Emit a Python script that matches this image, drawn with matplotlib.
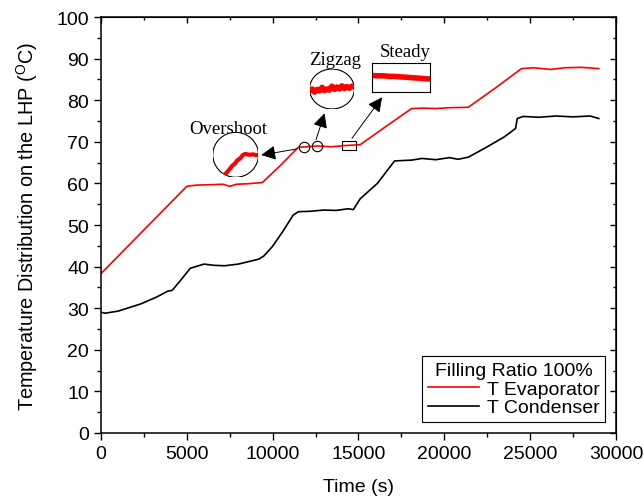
import numpy as np
import matplotlib.pyplot as plt
from matplotlib.patches import Ellipse, Rectangle
from matplotlib.ticker import MultipleLocator

plt.rcParams['font.family'] = 'Liberation Sans'
plt.rcParams['mathtext.fontset'] = 'custom'
plt.rcParams['mathtext.rm'] = 'Liberation Sans'

# Evaporator temperature
evap_t = [0, 1000, 2000, 3000, 4000, 5000, 5600, 6500, 7100, 7500, 7900, 8500, 9400,
          10500, 11500, 12000, 12600, 13400, 14200, 15100, 16500, 18100, 18800, 19500,
          20300, 21400, 23000, 24500, 25200, 26200, 27000, 28000, 29000]
evap_T = [38.3, 42.5, 46.7, 50.9, 55.1, 59.3, 59.6, 59.7, 59.8, 59.3, 59.8, 59.9, 60.2,
          64.5, 68.7, 68.8, 69.0, 68.8, 69.1, 69.3, 73.4, 78.0, 78.1, 78.0,
          78.2, 78.3, 83.0, 87.6, 87.8, 87.4, 87.8, 87.9, 87.6]

# Condenser temperature
cond_t = [0, 250, 1000, 2300, 3200, 3900, 4150, 4600, 5200, 6000, 6600, 7200, 8000, 8700,
          9200, 9500, 10000, 10600, 11200, 11500, 12200, 13000, 13700, 14400, 14700, 15100,
          16100, 17100, 18100, 18700, 19500, 20300, 20800, 21400, 22500, 23500, 24150, 24250,
          24600, 25500, 26500, 27500, 28500, 29000]
cond_T = [29.0, 28.8, 29.3, 31.0, 32.6, 34.1, 34.3, 36.5, 39.6, 40.6, 40.3, 40.2, 40.6, 41.3,
          41.8, 42.6, 44.9, 48.5, 52.4, 53.2, 53.3, 53.6, 53.5, 53.9, 53.7, 56.3,
          60.0, 65.4, 65.6, 66.0, 65.7, 66.2, 65.8, 66.3, 68.8, 71.2, 73.2, 75.6,
          76.1, 75.9, 76.2, 76.0, 76.2, 75.6]

# magnified traces inside the three insets (inset-local 0..1 coordinates)
over_x = [0.22, 0.3, 0.36, 0.42, 0.48, 0.54, 0.6, 0.66, 0.72, 0.8, 0.88, 0.96, 1.0]
over_y = [0.0, 0.1, 0.17, 0.25, 0.3, 0.38, 0.42, 0.5, 0.52, 0.5, 0.51, 0.49, 0.5]
zig_x = [0, 0.06, 0.11, 0.17, 0.22, 0.28, 0.33, 0.39, 0.44, 0.5, 0.56, 0.61, 0.67,
         0.72, 0.78, 0.83, 0.89, 0.94, 1.0]
zig_y = [0.44, 0.5, 0.42, 0.49, 0.45, 0.54, 0.46, 0.5, 0.47, 0.57, 0.49, 0.55, 0.5,
         0.58, 0.51, 0.56, 0.52, 0.57, 0.55]
steady_x = [0, 0.1, 0.2, 0.3, 0.4, 0.5, 0.6, 0.7, 0.8, 0.9, 1.0]
steady_y = [0.57, 0.56, 0.56, 0.54, 0.54, 0.52, 0.51, 0.49, 0.48, 0.46, 0.45]

# points marked on the evaporator curve
mark_t = [11840, 12580]

fig = plt.figure(figsize=(6.44, 5.02), dpi=100)
ax = fig.add_axes([0.1568, 0.1355, 0.7997, 0.8286])

ax.plot(evap_t, evap_T, color='red', lw=1.2, label='T Evaporator')
ax.plot(cond_t, cond_T, color='black', lw=1.2, label='T Condenser')

ax.set_xlim(0, 30000)
ax.set_ylim(0, 100)
ax.xaxis.set_major_locator(MultipleLocator(5000))
ax.xaxis.set_minor_locator(MultipleLocator(2500))
ax.yaxis.set_major_locator(MultipleLocator(10))
ax.yaxis.set_minor_locator(MultipleLocator(5))
ax.tick_params(which='both', direction='out', labelsize=14, width=1)
ax.tick_params(which='major', length=5)
ax.tick_params(which='minor', length=3)
for s in ax.spines.values():
    s.set_linewidth(1.1)
sec_y = ax.secondary_yaxis('right')
sec_y.yaxis.set_major_locator(MultipleLocator(10))
sec_y.yaxis.set_minor_locator(MultipleLocator(5))
sec_y.tick_params(which='both', direction='in', labelright=False, width=1)
sec_y.tick_params(which='major', length=4)
sec_y.tick_params(which='minor', length=2)
sec_x = ax.secondary_xaxis('top')
sec_x.xaxis.set_major_locator(MultipleLocator(5000))
sec_x.xaxis.set_minor_locator(MultipleLocator(2500))
sec_x.tick_params(which='both', direction='in', labeltop=False, width=1)
sec_x.tick_params(which='major', length=4)
sec_x.tick_params(which='minor', length=2)

ax.set_xlabel('Time (s)', fontsize=14, labelpad=12)
ax.set_ylabel('Temperature Distribution on the LHP ($^{\\rm O}$C)', fontsize=14.3, labelpad=12)

leg = ax.legend(title='Filling Ratio 100%', loc='lower right', fontsize=14, title_fontsize=14,
                fancybox=False, edgecolor='black', framealpha=1, handlelength=2.6,
                borderaxespad=0.55, borderpad=0.3, labelspacing=0.05, handletextpad=0.4)
leg.get_frame().set_linewidth(0.8)

# markers on the curve
mark_T = np.interp(mark_t, evap_t, evap_T)
ax.plot(mark_t, mark_T, 'o', ms=7.5, mfc='none', mec='black', mew=0.8)
ax.add_patch(Rectangle((14040, 68.1), 820, 2.2, fill=False, ec='black', lw=0.8))

serif = 'Liberation Serif'
arrow = dict(arrowstyle='-|>', mutation_scale=22, color='black', lw=0.7)
ax.annotate('', xy=(9175, 66.7), xytext=(11570, 68.4), arrowprops=arrow)
ax.annotate('', xy=(13070, 77.5), xytext=(12480, 69.9), arrowprops=arrow)
ax.annotate('', xy=(16470, 81.25), xytext=(14525, 70.3), arrowprops=arrow)

ax.text(7425, 73.1, 'Overshoot', family=serif, fontsize=13.5, ha='center', va='center')
ax.text(13650, 89.9, 'Zigzag', family=serif, fontsize=13.5, ha='center', va='center')
ax.text(17730, 91.6, 'Steady', family=serif, fontsize=13.5, ha='center', va='center')

# circular insets
for bounds, xs, ys, w in [([6515, 61.47, 2660, 10.81], over_x, over_y, 3),
                          ([12150, 77.9, 2610, 9.6], zig_x, zig_y, 4)]:
    ins = ax.inset_axes(bounds, transform=ax.transData)
    ins.set_xlim(0, 1)
    ins.set_ylim(0, 1)
    ins.axis('off')
    ell = Ellipse((0.5, 0.5), 1, 1, transform=ins.transAxes, fc='white', ec='black', lw=0.8)
    ins.add_patch(ell)
    ln, = ins.plot(xs, ys, color='red', lw=w)
    ln.set_clip_path(ell)

ins = ax.inset_axes([15790, 82.0, 3400, 6.9], transform=ax.transData)
ins.set_xlim(0, 1)
ins.set_ylim(0, 1)
ins.set_xticks([])
ins.set_yticks([])
for s in ins.spines.values():
    s.set_linewidth(0.8)
ins.plot(steady_x, steady_y, color='red', lw=4)

fig.savefig('out.png', dpi=100)
